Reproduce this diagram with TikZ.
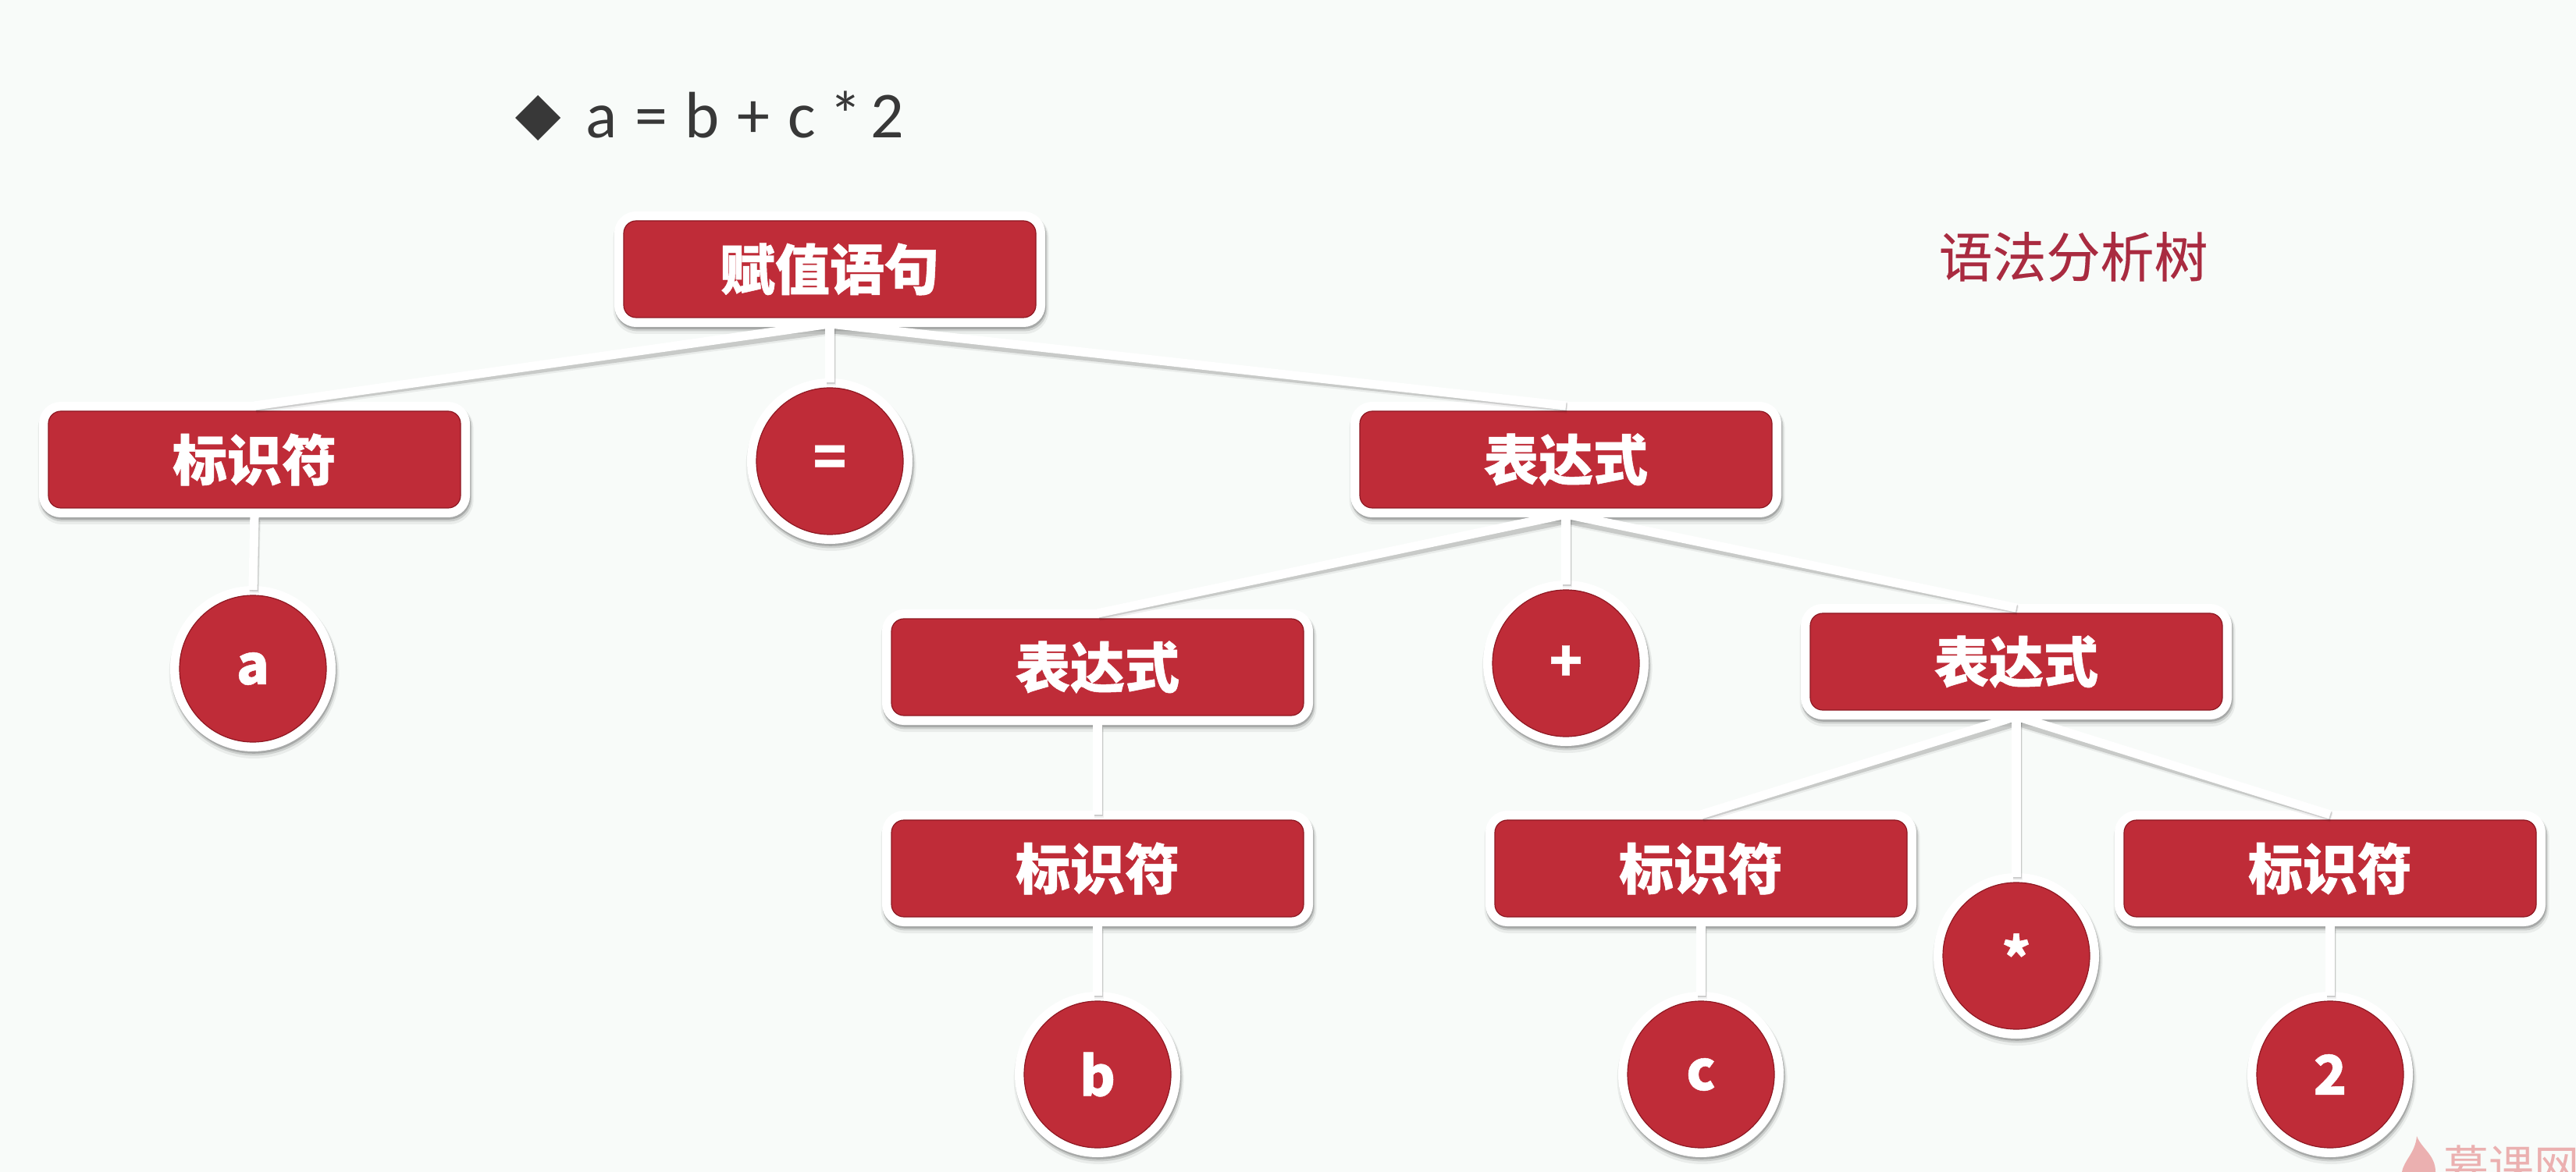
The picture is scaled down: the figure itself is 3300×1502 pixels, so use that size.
\documentclass[tikz,border=0pt]{standalone}
\usepackage{fontspec}
\setmainfont{Carlito}
\newfontfamily\cjk{Noto Sans CJK SC}
\newfontfamily\cjkheavy[BoldFeatures={FakeBold=0.7}]{Noto Sans CJK SC}
\newfontfamily\cjkmid[FakeBold=0.25]{Noto Sans CJK SC}
\usetikzlibrary{backgrounds}
\definecolor{pagebg}{HTML}{F8FBF9}
\definecolor{boxred}{HTML}{BF2C38}
\definecolor{boxedge}{HTML}{8E1822}
\definecolor{titlered}{HTML}{A92B40}
\definecolor{inkdark}{HTML}{383838}
\definecolor{markpink}{HTML}{EBB0B0}
\tikzset{
  softring/.style={
    preaction={draw=black,draw opacity=.06,line width=15pt,transform canvas={xshift=.8pt,yshift=-3pt}},
    preaction={draw=black,draw opacity=.12,line width=13pt,transform canvas={xshift=.8pt,yshift=-2.2pt}},
    preaction={draw=black,draw opacity=.18,line width=12pt,transform canvas={xshift=.5pt,yshift=-1.4pt}},
    preaction={draw=white,line width=12pt}},
  treelabel/.style={text=white,font=\cjkheavy\bfseries\fontsize{35}{40}\selectfont,inner sep=0pt,outer sep=0pt},
  ruleitem/.style={treelabel,softring,rectangle,rounded corners=8pt,fill=boxred,draw=boxedge,line width=.6pt,
    minimum width=264pt,minimum height=62pt},
  tokenitem/.style={treelabel,softring,circle,fill=boxred,draw=boxedge,line width=.6pt,minimum size=94pt},
  linkshadeA/.style={draw=black,draw opacity=.06,line width=6pt,transform canvas={xshift=.9pt,yshift=-2.4pt}},
  linkshadeB/.style={draw=black,draw opacity=.14,line width=5.6pt,transform canvas={xshift=.6pt,yshift=-1.4pt}},
  linkline/.style={draw=white,line width=5.6pt},
}
\begin{document}
\begin{tikzpicture}[x=.5pt,y=-.5pt]
\useasboundingbox (0,0) rectangle (3300,1502);
\begin{pgfonlayer}{background}
  \fill[pagebg] (0,0) rectangle (3300,1502);
\end{pgfonlayer}
\node[ruleitem] (root) at (1063,345) {赋值语句};
\node[ruleitem] (idA) at (326,589) {标识符};
\node[tokenitem] (eq) at (1063,591) {=};
\node[ruleitem] (exprTop) at (2006,589) {表达式};
\node[tokenitem] (a) at (324,857) {a};
\node[ruleitem] (exprL) at (1406,855) {表达式};
\node[tokenitem] (plus) at (2006,850) {+};
\node[ruleitem] (exprR) at (2583,848) {表达式};
\node[ruleitem] (idB) at (1406,1113) {标识符};
\node[ruleitem] (idC) at (2179,1113) {标识符};
\node[tokenitem] (star) at (2583,1225) {*};
\node[ruleitem] (idTwo) at (2985,1113) {标识符};
\node[tokenitem] (b) at (1406,1377) {b};
\node[tokenitem] (c) at (2179,1377) {c};
\node[tokenitem] (two) at (2985,1377) {2};
\foreach \p/\q in {root/idA,root/eq,root/exprTop,idA/a,exprTop/exprL,exprTop/plus,exprTop/exprR,
    exprL/idB,idB/b,exprR/idC,exprR/star,exprR/idTwo,idC/c,idTwo/two}{
  \draw[linkshadeA] ([yshift=-6pt]\p.south) -- ([yshift=4pt]\q.north);
  \draw[linkshadeB] ([yshift=-6pt]\p.south) -- ([yshift=4pt]\q.north);
}
\foreach \p/\q in {root/idA,root/eq,root/exprTop,idA/a,exprTop/exprL,exprTop/plus,exprTop/exprR,
    exprL/idB,idB/b,exprR/idC,exprR/star,exprR/idTwo,idC/c,idTwo/two}{
  \draw[linkline] ([yshift=-4pt]\p.south) -- ([yshift=3.5pt]\q.north);
}
\fill[inkdark] (689,122) -- (718,151) -- (689,180) -- (660,151) -- cycle;
\node[anchor=base west,inner sep=0pt,text=inkdark,font=\fontsize{42}{48}\selectfont] (formula) at (750,177) {\spaceskip=.27em a = b + c\hspace{-.06em} *\hspace{-.13em} 2};
\node[text=titlered,inner sep=0pt,font=\cjkmid\fontsize{34.5}{40}\selectfont] (title) at (2656,329) {语法分析树};
\begin{scope}
  \clip (0,0) rectangle (3300,1502);
  \fill[markpink] (3096,1456) .. controls (3102,1472) and (3120,1480) .. (3120,1502)
     -- (3077,1502) .. controls (3080,1486) and (3094,1478) .. (3096,1456) -- cycle;
  \node[anchor=north west,inner sep=0pt,text=markpink,font=\cjk\fontsize{29}{34}\selectfont] (mark) at (3130,1467) {慕课网};
\end{scope}
\end{tikzpicture}
\end{document}
